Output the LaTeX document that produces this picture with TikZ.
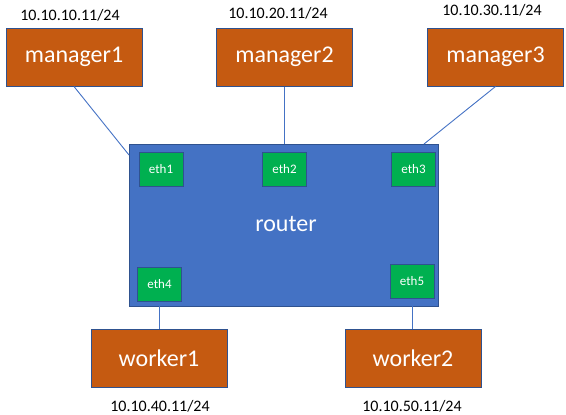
\documentclass[tikz,border=0pt]{standalone}
\usepackage{fontspec}
\setmainfont{Carlito}
\definecolor{boxorange}{HTML}{C55A11}
\definecolor{boxedge}{HTML}{2F528F}
\definecolor{routerblue}{HTML}{4472C4}
\definecolor{ethgreen}{HTML}{00B050}
\tikzset{
  hostbox/.style={draw=boxedge, line width=1pt, fill=boxorange, text=white, inner sep=0pt,
    minimum width=136pt, minimum height=58pt, font=\fontsize{24pt}{28pt}\selectfont},
  ethbox/.style={draw=boxedge, line width=1pt, fill=ethgreen, text=white, inner sep=0pt,
    minimum width=44pt, minimum height=34pt, font=\fontsize{13pt}{15pt}\selectfont},
  routerbox/.style={draw=boxedge, line width=1pt, fill=routerblue, inner sep=0pt,
    minimum width=309pt, minimum height=162pt},
  iplabel/.style={inner sep=0pt, text=black, font=\fontsize{16pt}{19pt}\selectfont},
  link/.style={draw=routerblue, line width=0.9pt}
}
\begin{document}
\begin{tikzpicture}[x=1pt,y=-1pt]
\useasboundingbox (0,0) rectangle (566,415);
% router and interfaces
\node[routerbox] (router) at (283.5,225) {};
\node[text=white, inner sep=0pt, font=\fontsize{24pt}{28pt}\selectfont] (routerlabel) at (286,224) {router};
\node[ethbox] (eth1) at (161,169) {eth1};
\node[ethbox] (eth2) at (284.5,169) {eth2};
\node[ethbox] (eth3) at (413.5,169) {eth3};
\node[ethbox] (eth4) at (159.5,284) {eth4};
\node[ethbox] (eth5) at (412,281) {eth5};
% hosts
\node[hostbox] (manager1) at (74,57) {manager1};
\node[hostbox] (manager2) at (284.5,57) {manager2};
\node[hostbox] (manager3) at (495.5,57) {manager3};
\node[hostbox] (worker1) at (159,358.5) {worker1};
\node[hostbox] (worker2) at (413,358.5) {worker2};
% address labels
\node[iplabel] (ip1) at (70,15) {10.10.10.11/24};
\node[iplabel] (ip2) at (278,13) {10.10.20.11/24};
\node[iplabel] (ip3) at (492,10) {10.10.30.11/24};
\node[iplabel] (ip4) at (160,406) {10.10.40.11/24};
\node[iplabel] (ip5) at (412,406) {10.10.50.11/24};
% connectors
\coordinate (r1) at (129,155);
\coordinate (r3) at (424,144);
\draw[link] (manager1.south) -- (r1);
\draw[link] (manager2.south) -- (manager2.south |- router.north);
\draw[link] (manager3.south) -- (r3);
\draw[link] (eth4.south) -- (eth4.south |- worker1.north);
\draw[link] (eth5.south) -- (eth5.south |- worker2.north);
\end{tikzpicture}
\end{document}
